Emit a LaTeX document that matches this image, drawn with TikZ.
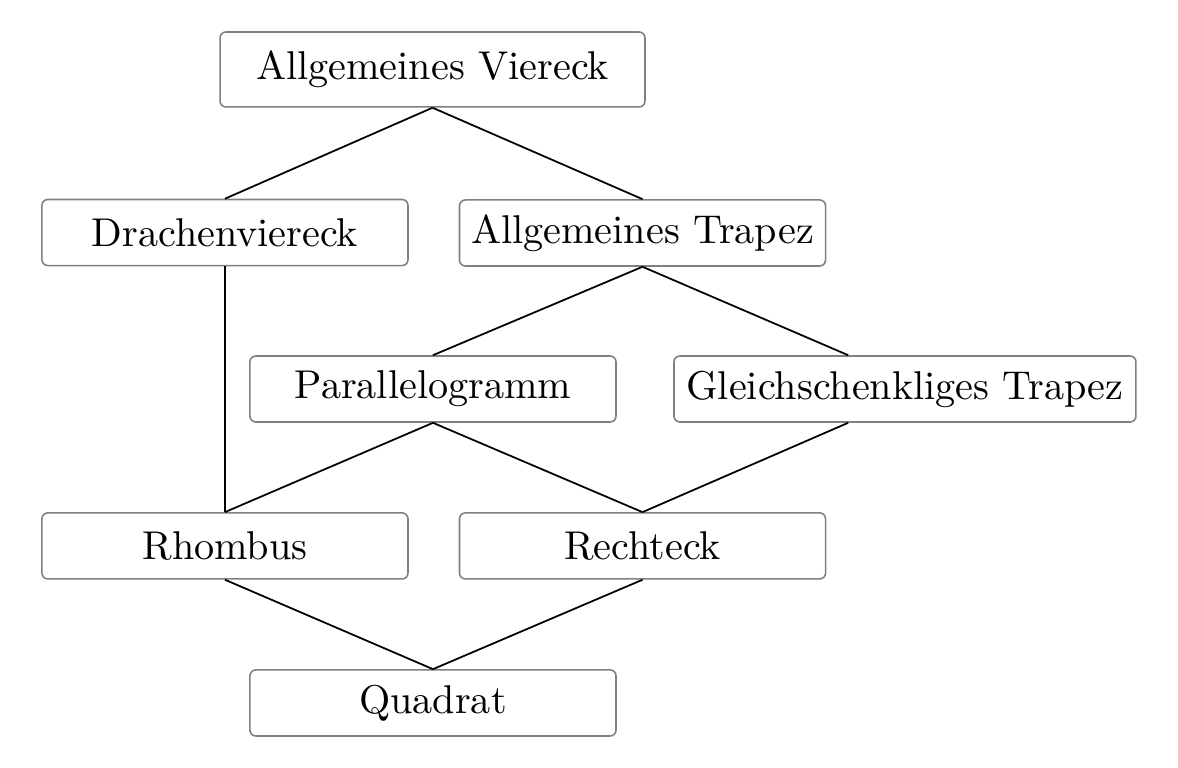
\documentclass[tikz,border=0pt]{standalone}
\usetikzlibrary{positioning,calc}

\begin{document}
\begin{tikzpicture}[
  quad/.style={
    draw=black!50,
    rounded corners=1.5pt,
    minimum width=3.282cm,
    minimum height=0.592cm,
    inner sep=0pt,
    align=center,
    font=\fontsize{10.25pt}{12pt}\selectfont
  },
  link/.style={black,line width=0.45pt}
]
  \useasboundingbox (0,0) rectangle (10.562,-6.886);
  % level 0
  \node[quad,minimum width=3.81cm,minimum height=0.672cm] (viereck) at (3.878,-0.623) {Allgemeines Viereck};
  % level 1
  \node[quad] (drachen) at (2.017,-2.085) {Drachenviereck};
  \node[quad] (trapez) at (5.761,-2.089) {Allgemeines Trapez};
  % level 2
  \node[quad] (parallel) at (3.882,-3.488) {Parallelogramm};
  \node[quad,minimum width=4.142cm] (gleich) at (8.114,-3.488) {Gleichschenkliges Trapez};
  % level 3
  \node[quad] (rhombus) at (2.017,-4.895) {Rhombus};
  \node[quad] (rechteck) at (5.761,-4.895) {Rechteck};
  % level 4
  \node[quad] (quadrat) at (3.882,-6.303) {Quadrat};
  \coordinate (gleichin) at ([xshift=1.569cm]gleich.north west);
  \coordinate (gleichout) at ([xshift=1.569cm]gleich.south west);
  \draw[link] (viereck.south) -- (drachen.north);
  \draw[link] (viereck.south) -- (trapez.north);
  \draw[link] (drachen.south) -- (rhombus.north);
  \draw[link] (trapez.south) -- (parallel.north);
  \draw[link] (trapez.south) -- (gleichin);
  \draw[link] (parallel.south) -- (rhombus.north);
  \draw[link] (parallel.south) -- (rechteck.north);
  \draw[link] (gleichout) -- (rechteck.north);
  \draw[link] (rhombus.south) -- (quadrat.north);
  \draw[link] (rechteck.south) -- (quadrat.north);
\end{tikzpicture}
\end{document}
